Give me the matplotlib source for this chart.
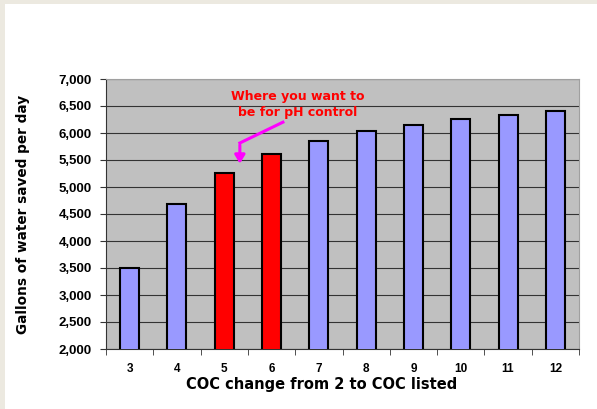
import numpy as np
import matplotlib.pyplot as plt
from matplotlib.patches import Rectangle

# COC values and gallons saved per day
coc = [3, 4, 5, 6, 7, 8, 9, 10, 11, 12]
gallons = [3500, 4680, 5265, 5605, 5845, 6030, 6145, 6255, 6330, 6400]
highlight = [5, 6]
ytick_vals = [2000, 2500, 3000, 3500, 4000, 4500, 5000, 5500, 6000, 6500, 7000]

plt.rcParams['font.family'] = ['DejaVu Sans']

fig = plt.figure(figsize=(5.97, 4.09), dpi=100)
fig.patch.set_facecolor('#ece9e0')
# white page inside the thin beige frame
fig.patches.append(Rectangle((5 / 597, 0), 1, 1 - 4 / 409, transform=fig.transFigure,
                             facecolor='white', edgecolor='none', zorder=-1))

ax = fig.add_axes([106 / 597, 1 - 349 / 409, 473 / 597, 270 / 409])
ax.set_facecolor('#c0c0c0')

x = np.arange(len(coc))
colors = ['#ff0000' if c in highlight else '#9999ff' for c in coc]
ax.bar(x, gallons, width=0.4, color=colors, edgecolor='black', linewidth=1.5, zorder=3)

ax.set_ylim(2000, 7000)
ax.set_xlim(-0.5, len(coc) - 0.5)
ax.set_yticks(ytick_vals)
ax.set_yticklabels(['{:,}'.format(v) for v in ytick_vals],
                   fontweight='bold', fontsize=9.5, family='Liberation Sans')
ax.yaxis.grid(True, color='#333333', linewidth=0.8, zorder=1)

# category labels centered, ticks at category boundaries
ax.set_xticks(x)
ax.set_xticklabels([str(c) for c in coc], fontweight='bold', fontsize=8.5,
                   family='Liberation Sans')
ax.tick_params(axis='x', length=0, pad=10)
ax.set_xticks(np.arange(-0.5, len(coc), 1), minor=True)
ax.tick_params(axis='x', which='minor', length=4, direction='out', color='#333333')
ax.tick_params(axis='y', length=4, direction='out', color='#333333', pad=6)

for s in ['top', 'right']:
    ax.spines[s].set_color('#a0a0a0')
for s in ['left', 'bottom']:
    ax.spines[s].set_color('#333333')

ax.set_xlabel('COC change from 2 to COC listed', fontweight='bold', fontsize=10.5)
ax.xaxis.set_label_coords(0.455, -0.105)
ax.set_ylabel('Gallons of water saved per day', fontweight='bold', fontsize=9.8)
ax.yaxis.set_label_coords(-0.16, 0.5)

# callout
ax.text(3.55, 6530, 'Where you want to\nbe for pH control', color='#ff0000',
        fontweight='bold', fontsize=9, ha='center', va='center', linespacing=1.25, zorder=5)
ax.plot([3.24, 2.33], [6200, 5815], color='#ff00ff', linewidth=2.2, zorder=5)
ax.annotate('', xy=(2.33, 5380), xytext=(2.33, 5830),
            arrowprops=dict(arrowstyle='-|>,head_width=0.3,head_length=0.5',
                            color='#ff00ff', lw=2.2), zorder=5)

fig.savefig('out.png', dpi=100, facecolor=fig.get_facecolor())
